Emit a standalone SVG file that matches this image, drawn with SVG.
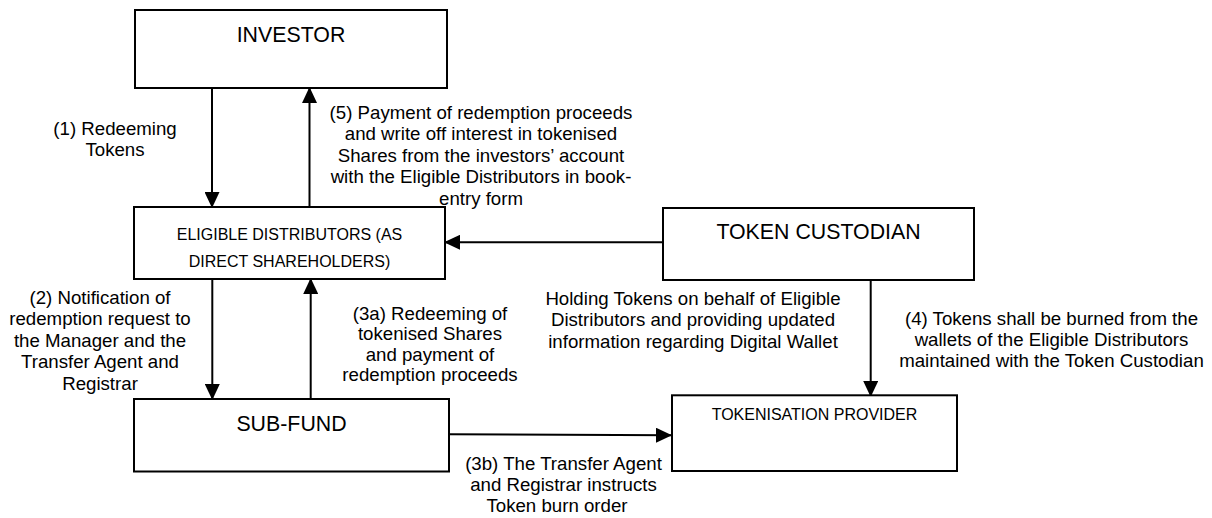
<svg xmlns="http://www.w3.org/2000/svg" width="1212" height="518" viewBox="0 0 1212 518">
<style>
text{font-family:"Liberation Sans",Arial,sans-serif;fill:#000;text-anchor:middle}
.big{font-size:21.33px}
.small{font-size:16px}
.lbl{font-size:18.67px}
.box{fill:#fff;stroke:#000;stroke-width:2}
.con{fill:none;stroke:#000;stroke-width:2;marker-end:url(#ah)}
</style>
<defs>
<marker id="ah" viewBox="0 0 16 15" refX="15" refY="7.5" markerWidth="16" markerHeight="15" markerUnits="userSpaceOnUse" orient="auto">
<path d="M0,0 L16,7.5 L0,15 Z" fill="#000"/>
</marker>
</defs>
<rect width="1212" height="518" fill="#fff"/>
<g id="connectors">
<line class="con" x1="212" y1="88" x2="212" y2="207"/>
<line class="con" x1="309.5" y1="207" x2="309.5" y2="88"/>
<line class="con" x1="212.3" y1="279" x2="212.3" y2="399"/>
<line class="con" x1="310.7" y1="399" x2="310.7" y2="279"/>
<line class="con" x1="663" y1="242.3" x2="445" y2="242.3"/>
<line class="con" x1="870.7" y1="280" x2="870.7" y2="396"/>
<line class="con" x1="449" y1="434.3" x2="671" y2="435.3"/>
</g>
<g id="investor">
<rect class="box" x="135" y="10" width="312" height="78"/>
<text class="big" x="291" y="41.7">INVESTOR</text>
</g>
<g id="eligible-distributors">
<rect class="box" x="134" y="207" width="311" height="72"/>
<text class="small" x="289.5" y="240.3">ELIGIBLE DISTRIBUTORS (AS</text>
<text class="small" x="289.5" y="267">DIRECT SHAREHOLDERS)</text>
</g>
<g id="sub-fund">
<rect class="box" x="134" y="399" width="315" height="72.5"/>
<text class="big" x="291.5" y="431">SUB-FUND</text>
</g>
<g id="token-custodian">
<rect class="box" x="663" y="208" width="311" height="72"/>
<text class="big" x="818.5" y="238.7">TOKEN CUSTODIAN</text>
</g>
<g id="tokenisation-provider">
<rect class="box" x="672" y="395.3" width="285" height="75.7"/>
<text class="small" x="814.5" y="420">TOKENISATION PROVIDER</text>
</g>
<g id="labels">
<text class="lbl" x="115" y="135">(1) Redeeming</text>
<text class="lbl" x="115" y="155.5">Tokens</text>
<text class="lbl" x="481" y="119">(5) Payment of redemption proceeds</text>
<text class="lbl" x="481" y="140.3">and write off interest in tokenised</text>
<text class="lbl" x="481" y="161.6">Shares from the investors’ account</text>
<text class="lbl" x="481" y="183">with the Eligible Distributors in book-</text>
<text class="lbl" x="481" y="204.5">entry form</text>
<text class="lbl" x="100" y="304">(2) Notification of</text>
<text class="lbl" x="100" y="325">redemption request to</text>
<text class="lbl" x="100" y="346.5">the Manager and the</text>
<text class="lbl" x="100" y="368">Transfer Agent and</text>
<text class="lbl" x="100" y="389.5">Registrar</text>
<text class="lbl" x="430" y="319.5">(3a) Redeeming of</text>
<text class="lbl" x="430" y="340">tokenised Shares</text>
<text class="lbl" x="430" y="360.5">and payment of</text>
<text class="lbl" x="430" y="381">redemption proceeds</text>
<text class="lbl" x="693" y="305.3">Holding Tokens on behalf of Eligible</text>
<text class="lbl" x="693" y="326.3">Distributors and providing updated</text>
<text class="lbl" x="693" y="347.5">information regarding Digital Wallet</text>
<text class="lbl" x="1051.5" y="325.3">(4) Tokens shall be burned from the</text>
<text class="lbl" x="1051.5" y="346">wallets of the Eligible Distributors</text>
<text class="lbl" x="1051.5" y="366.7">maintained with the Token Custodian</text>
<text class="lbl" x="563.5" y="470.3">(3b) The Transfer Agent</text>
<text class="lbl" x="563.5" y="491">and Registrar instructs</text>
<text class="lbl" x="557" y="511.7">Token burn order</text>
</g>
</svg>
